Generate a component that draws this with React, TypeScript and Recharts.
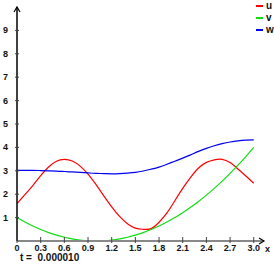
import { LineChart, Line, XAxis, YAxis, ReferenceDot } from 'recharts';

// sample positions along x
const xs = [
  0, 0.1, 0.2, 0.3, 0.4, 0.5, 0.6, 0.7, 0.8, 0.9, 1.0,
  1.1, 1.2, 1.3, 1.4, 1.5, 1.6, 1.7, 1.8, 1.9, 2.0,
  2.1, 2.2, 2.3, 2.4, 2.5, 2.6, 2.7, 2.8, 2.9, 3.0,
];

const uValues = [
  1.6, 1.98, 2.37, 2.79, 3.16, 3.41, 3.49, 3.42, 3.2, 2.86, 2.42,
  1.93, 1.46, 1.05, 0.74, 0.55, 0.5, 0.53, 0.8, 1.2, 1.72,
  2.25, 2.72, 3.12, 3.36, 3.47, 3.49, 3.35, 3.08, 2.78, 2.47,
];

const vValues = [
  1.0, 0.81, 0.64, 0.49, 0.36, 0.25, 0.16, 0.09, 0.04, 0.01, 0.0,
  0.01, 0.04, 0.09, 0.16, 0.25, 0.36, 0.49, 0.64, 0.81, 1.0,
  1.21, 1.44, 1.69, 1.96, 2.25, 2.56, 2.89, 3.24, 3.61, 4.0,
];

const wValues = [
  3.02, 3.02, 3.02, 3.01, 3.0, 2.99, 2.97, 2.95, 2.93, 2.91, 2.89,
  2.88, 2.87, 2.88, 2.9, 2.93, 2.99, 3.07, 3.16, 3.28, 3.41,
  3.54, 3.68, 3.83, 3.96, 4.07, 4.16, 4.23, 4.28, 4.31, 4.32,
];

const xTicks = [0, 0.3, 0.6, 0.9, 1.2, 1.5, 1.8, 2.1, 2.4, 2.7, 3.0];
const xTickLabels = ['0', '0.3', '0.6', '0.9', '1.2', '1.5', '1.8', '2.1', '2.4', '2.7', '3.0'];
const yTicks = [1, 2, 3, 4, 5, 6, 7, 8, 9];

const series = [
  { key: 'u', color: '#ff0000' },
  { key: 'v', color: '#11dd11' },
  { key: 'w', color: '#0000ee' },
];

const timeLabel = 't =  0.000010';

const data = xs.map((x, i) => ({ x, u: uValues[i], v: vValues[i], w: wValues[i] }));

const FONT = '"Liberation Sans", Arial, sans-serif';

function XTick(props: any) {
  const { x, y, payload } = props;
  const idx = xTicks.indexOf(payload.value);
  return (
    <g>
      <line x1={x} x2={x} y1={y - 4} y2={y + 2} stroke="#444" strokeWidth={1} />
      <text x={x} y={y + 10} textAnchor="middle" fontSize={9} fontWeight="bold" fill="#111" fontFamily={FONT}>
        {idx >= 0 ? xTickLabels[idx] : payload.value}
      </text>
    </g>
  );
}

function YTick(props: any) {
  const { x, y, payload } = props;
  return (
    <g>
      <line x1={x - 2} x2={x + 2} y1={y} y2={y} stroke="#444" strokeWidth={1} />
      <text x={x - 9} y={y + 3} textAnchor="end" fontSize={9} fontWeight="bold" fill="#111" fontFamily={FONT}>
        {payload.value}
      </text>
    </g>
  );
}

function UpArrow(props: any) {
  const { cx, cy } = props;
  return <path d={`M${cx - 3},${cy + 5} L${cx},${cy} L${cx + 3},${cy + 5}`} fill="none" stroke="#000" strokeWidth={1.2} />;
}

function RightArrow(props: any) {
  const { cx, cy } = props;
  return (
    <g>
      <path d={`M${cx - 5},${cy - 3} L${cx},${cy} L${cx - 5},${cy + 3}`} fill="none" stroke="#000" strokeWidth={1.2} />
      <text x={cx + 1} y={cy + 11} fontSize={9} fontWeight="bold" fill="#111" fontFamily={FONT}>x</text>
    </g>
  );
}

export default function App() {
  return (
    <div style={{ position: 'absolute', left: 0, top: 0, width: 274, height: 265, background: '#fff', fontFamily: FONT }}>
      <LineChart width={274} height={265} data={data} margin={{ top: 7, right: 10, bottom: 0, left: 0 }}>
        <XAxis
          dataKey="x"
          type="number"
          domain={[0, 3.13]}
          ticks={xTicks}
          interval={0}
          tick={<XTick />}
          tickLine={false}
          tickSize={0}
          tickMargin={0}
          height={24}
          axisLine={{ stroke: '#888', strokeWidth: 2 }}
          allowDataOverflow
        />
        <YAxis
          type="number"
          domain={[0, 10]}
          ticks={yTicks}
          interval={0}
          tick={<YTick />}
          tickLine={false}
          tickSize={0}
          tickMargin={0}
          width={17}
          axisLine={{ stroke: '#000', strokeWidth: 1.5 }}
          allowDataOverflow
        />
        {series.map((s) => (
          <Line
            key={s.key}
            dataKey={s.key}
            type="natural"
            stroke={s.color}
            strokeWidth={1.2}
            dot={false}
            isAnimationActive={false}
          />
        ))}
        <ReferenceDot x={0} y={10} r={0} ifOverflow="visible" shape={<UpArrow />} />
        <ReferenceDot x={3.13} y={0} r={0} ifOverflow="visible" shape={<RightArrow />} />
      </LineChart>
      <div style={{ position: 'absolute', left: 256, top: 0 }}>
        {series.map((s, i) => (
          <div key={s.key} style={{ position: 'absolute', left: 0, top: 1 + i * 12, display: 'flex', alignItems: 'center', height: 10 }}>
            <span style={{ display: 'inline-block', width: 7, height: 2, background: s.color }} />
            <span style={{ marginLeft: 3, fontSize: 10, fontWeight: 'bold', color: '#111', lineHeight: '10px' }}>{s.key}</span>
          </div>
        ))}
      </div>
      <div style={{ position: 'absolute', left: 20, top: 252, fontSize: 10, fontWeight: 'bold', color: '#111', whiteSpace: 'pre', lineHeight: '11px' }}>
        {timeLabel}
      </div>
    </div>
  );
}
